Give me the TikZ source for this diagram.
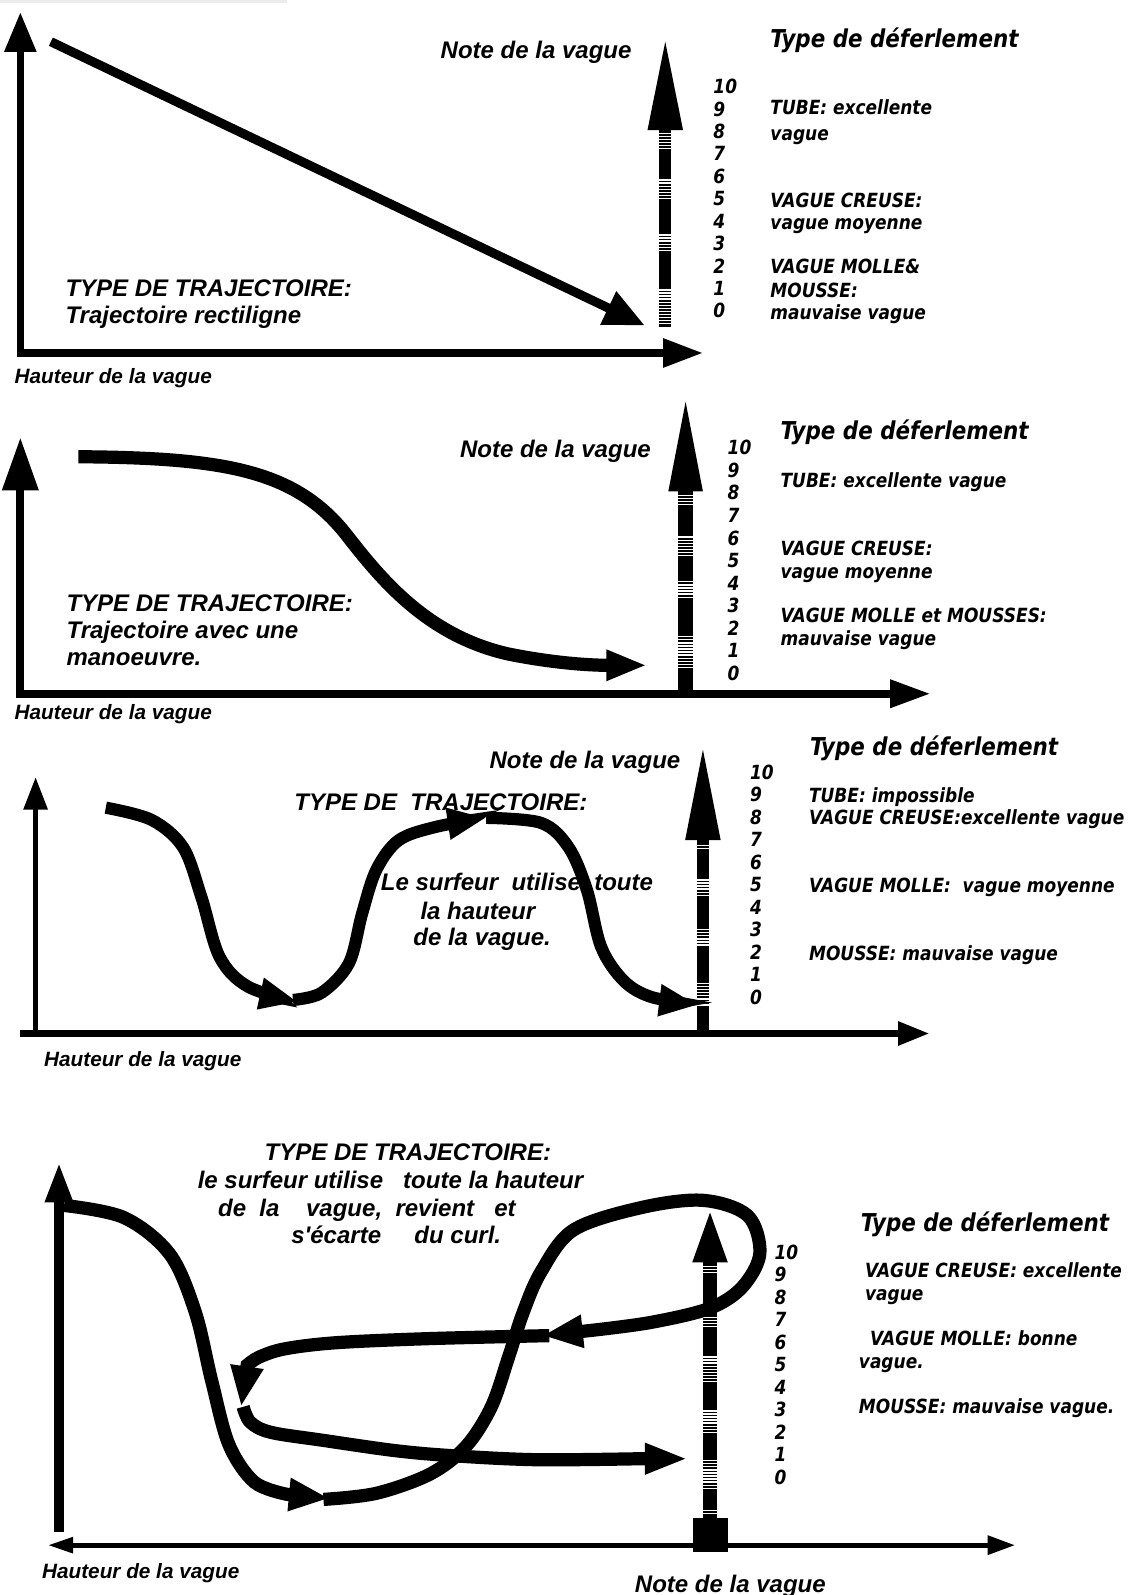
\documentclass[tikz,border=0pt]{standalone}
\usepackage{fontspec}
\usetikzlibrary{arrows.meta}
\newfontfamily\trajfont{Liberation Sans}
\newfontfamily\legfont{DejaVu Sans}[FakeStretch=0.87]
\newcommand\ratingbar[7]{%
  \fill (#1-#5,#3) -- (#1,#2) -- (#1+#5,#3) -- cycle;
  \fill (#1-#6,#3) rectangle (#1+#6,#4);
  \foreach \ga/\gb in {#7}{%
    \pgfmathsetmacro\gc{\ga+3}%
    \foreach \s in {\ga,\gc,...,\gb}{\draw[white,line width=0.6pt] (#1-#6,\s) -- (#1+#6,\s);}%
  }%
}
\tikzset{
  txt/.style={inner sep=0pt, text depth=0pt},
  big/.style={txt, font=\trajfont\bfseries\itshape\fontsize{11.8pt}{14pt}\selectfont, text height=8.45pt},
  haut/.style={txt, font=\trajfont\bfseries\itshape\fontsize{10.2pt}{12pt}\selectfont, text height=7.3pt},
  legtitle/.style={txt, font=\legfont\bfseries\itshape\fontsize{12.1pt}{14pt}\selectfont, text height=8.8pt},
  leg/.style={txt, font=\legfont\bfseries\itshape\fontsize{9.6pt}{11pt}\selectfont, text height=7pt},
  traj/.style={line width=6pt},
  trajtip/.style={-{Triangle[length=19pt,width=14.5pt]}},
}
\begin{document}
\begin{tikzpicture}[x=0.5pt,y=-0.5pt]
\useasboundingbox (0,0) rectangle (1118,1568);
\fill[white] (0,0) rectangle (1118,1568);
\fill[gray!15] (0,0) rectangle (282,3);

% ================= Panel 1 =================
\coordinate (a1top) at (20,12);
\coordinate (a1o) at (20,347);
\coordinate (a1right) at (691,347);
\draw[line width=3.5pt, {Triangle[length=19.5pt,width=15pt]}-{Triangle[length=19.5pt,width=13.5pt]}] (a1top) -- (a1o) -- (a1right);
\coordinate (d1s) at (50,41);
\coordinate (d1e) at (634,320);
\draw[line width=4.5pt, -{Triangle[length=20pt,width=17pt]}] (d1s) -- (d1e);
\ratingbar{654}{41}{128}{321}{17.5}{6}{131/146, 177/197, 231/248, 285/318}
\node[big] (note1) at (527,49) {Note de la vague};
\node[big, anchor=west] (ty1a) at (64,283) {TYPE DE TRAJECTOIRE:};
\node[big, anchor=west] (ty1b) at (64,310) {Trajectoire rectiligne};
\node[haut, anchor=west] (hv1) at (14,370) {Hauteur de la vague};
\node[legtitle, anchor=west] (df1) at (757,38) {Type de déferlement};
\foreach \n in {0,...,10} \node[leg, anchor=west] (s1-\n) at (701,{85+22.05*(10-\n)}) {\n};
\node[leg, anchor=west] (l1a) at (757,106) {TUBE: excellente};
\node[leg, anchor=west] (l1b) at (757,131) {vague};
\node[leg, anchor=west] (l1c) at (757,197) {VAGUE CREUSE:};
\node[leg, anchor=west] (l1d) at (757,219) {vague moyenne};
\node[leg, anchor=west] (l1e) at (757,262) {VAGUE MOLLE\&};
\node[leg, anchor=west] (l1f) at (757,285) {MOUSSE:};
\node[leg, anchor=west] (l1g) at (757,307) {mauvaise vague};

% ================= Panel 2 =================
\coordinate (a2top) at (20,430);
\coordinate (a2o) at (20,682);
\coordinate (a2right) at (915,682);
\draw[line width=4pt, {Triangle[length=26pt,width=17pt]}-{Triangle[length=20pt,width=13pt]}] (a2top) -- (a2o) -- (a2right);
\ratingbar{674}{395}{483}{679}{17}{7}{487/497, 528/548, 572/587, 626/656}
\coordinate (c2s) at (77,449);
\coordinate (c2m) at (340,525);
\coordinate (c2n) at (500,643);
\coordinate (c2e) at (636,654);
\draw[line width=6.5pt, -{Triangle[length=20pt,width=14pt]}] (c2s) .. controls (220,450) and (290,462) .. (c2m) .. controls (375,570) and (420,625) .. (c2n) .. controls (560,655) and (600,654) .. (c2e);
\node[big] (note2) at (546,441) {Note de la vague};
\node[big, anchor=west] (ty2a) at (65,593) {TYPE DE TRAJECTOIRE:};
\node[big, anchor=west] (ty2b) at (65,619) {Trajectoire avec une};
\node[big, anchor=west] (ty2c) at (65,646) {manoeuvre.};
\node[haut, anchor=west] (hv2) at (14,700) {Hauteur de la vague};
\node[legtitle, anchor=west] (df2) at (767,423) {Type de déferlement};
\foreach \n in {0,...,10} \node[leg, anchor=west] (s2-\n) at (715,{440+22.2*(10-\n)}) {\n};
\node[leg, anchor=west] (l2a) at (767,472) {TUBE: excellente vague};
\node[leg, anchor=west] (l2b) at (767,539) {VAGUE CREUSE:};
\node[leg, anchor=west] (l2c) at (767,562) {vague moyenne};
\node[leg, anchor=west] (l2d) at (767,605) {VAGUE MOLLE et MOUSSES:};
\node[leg, anchor=west] (l2e) at (767,628) {mauvaise vague};

% ================= Panel 3 =================
\coordinate (a3o) at (35,1016);
\coordinate (a3top) at (35,764);
\coordinate (a3left) at (20,1016);
\coordinate (a3right) at (914,1016);
\draw[line width=2.5pt, -{Triangle[length=16pt,width=11.5pt]}] (a3o) -- (a3top);
\draw[line width=3.5pt, -{Triangle[length=15.5pt,width=11pt]}] (a3left) -- (a3right);
\ratingbar{691}{737}{826}{1016}{17.5}{6}{831/836, 865/882, 914/931, 967/990}
\draw[traj, trajtip] plot[smooth, tension=0.55] coordinates {(104,794) (149,806) (180,833) (198,882) (216,941) (244,970) (293,985)};
\draw[traj, trajtip] plot[smooth, tension=0.55] coordinates {(288,983) (316,976) (343,947) (356,898) (370,855) (392,826) (428,813) (478,804)};
\draw[traj, trajtip] plot[smooth, tension=0.55] coordinates {(478,804) (532,809) (559,833) (577,875) (591,931) (613,964) (640,980) (686,988)};
\node[big] (note3) at (575,747) {Note de la vague};
\node[big, anchor=west] (ty3a) at (289,788) {TYPE DE\ \ TRAJECTOIRE:};
\node[big, anchor=west] (ty3b) at (374,867) {Le surfeur\ \ utilise\ \ toute};
\node[big, anchor=west] (ty3c) at (413,895) {la hauteur};
\node[big, anchor=west] (ty3d) at (406,921) {de la vague.};
\node[haut, anchor=west] (hv3) at (43,1041) {Hauteur de la vague};
\node[legtitle, anchor=west] (df3) at (796,734) {Type de déferlement};
\foreach \n in {0,...,10} \node[leg, anchor=west] (s3-\n) at (737,{759+22.1*(10-\n)}) {\n};
\node[leg, anchor=west] (l3a) at (795,782) {TUBE: impossible};
\node[leg, anchor=west] (l3b) at (795,804) {VAGUE CREUSE:excellente vague};
\node[leg, anchor=west] (l3c) at (795,870) {VAGUE MOLLE:\ \ vague moyenne};
\node[leg, anchor=west] (l3d) at (795,937) {MOUSSE: mauvaise vague};

% ================= Panel 4 =================
\coordinate (a4o) at (58,1506);
\coordinate (a4top) at (58,1142);
\coordinate (a4left) at (47,1519);
\coordinate (a4right) at (998,1519);
\draw[line width=5pt, -{Triangle[length=20pt,width=12.5pt]}] (a4o) -- (a4top);
\draw[line width=2.5pt, {Triangle[length=12.5pt,width=7.5pt]}-{Triangle[length=13.5pt,width=9pt]}] (a4left) -- (a4right);
\fill (681,1492) rectangle (716,1526);
\ratingbar{698}{1192}{1241}{1492}{17.5}{6.5}{1245/1251, 1295/1305, 1334/1359, 1387/1410, 1436/1463, 1485/1488}
\draw[line width=6.5pt, -{Triangle[length=20pt,width=15pt]}] plot[smooth, tension=0.55] coordinates {(63,1185) (122,1197) (167,1233) (192,1290) (208,1357) (225,1420) (250,1457) (282,1469)} -- (324,1473);
\draw[line width=6.5pt, -{Triangle[length=20pt,width=15pt]}] plot[smooth, tension=0.55] coordinates {(318,1474) (370,1468) (423,1449) (458,1422) (483,1383) (500,1334) (514,1291) (532,1250) (564,1209) (631,1187) (691,1180) (735,1195) (747,1232) (730,1265) (698,1286) (640,1300) (580,1308)} -- (533,1313);
\draw[line width=6.5pt, -{Triangle[length=20pt,width=15pt]}] plot[smooth, tension=0.55] coordinates {(540,1313) (420,1316) (330,1320) (280,1326) (255,1334) (243,1342)} -- (237,1383);
\draw[line width=6.5pt, -{Triangle[length=21pt,width=14pt]}] plot[smooth, tension=0.55] coordinates {(239,1383) (246,1398) (266,1408) (318,1416) (388,1426) (444,1431) (528,1435) (630,1434)} -- (676,1434);
\node[big] (ty4a) at (401,1132) {TYPE DE TRAJECTOIRE:};
\node[big, anchor=west] (ty4b) at (194,1160) {le surfeur utilise\ \ \ toute la hauteur};
\node[big, anchor=west] (ty4c) at (214,1187) {de\ \ la\ \ \ \ vague,\ \ revient\ \ \ et};
\node[big, anchor=west] (ty4d) at (286,1214) {s'écarte\ \ \ \ \ du curl.};
\node[haut, anchor=west] (hv4) at (41,1544) {Hauteur de la vague};
\node[big] (note4) at (718,1557) {Note de la vague};
\node[legtitle, anchor=west] (df4) at (846,1202) {Type de déferlement};
\foreach \n in {0,...,10} \node[leg, anchor=west] (s4-\n) at (761,{1231+22.1*(10-\n)}) {\n};
\node[leg, anchor=west] (l4a) at (850,1249) {VAGUE CREUSE: excellente};
\node[leg, anchor=west] (l4b) at (850,1271) {vague};
\node[leg, anchor=west] (l4c) at (855,1316) {VAGUE MOLLE: bonne};
\node[leg, anchor=west] (l4d) at (844,1338) {vague.};
\node[leg, anchor=west] (l4e) at (844,1383) {MOUSSE: mauvaise vague.};
\end{tikzpicture}
\end{document}
